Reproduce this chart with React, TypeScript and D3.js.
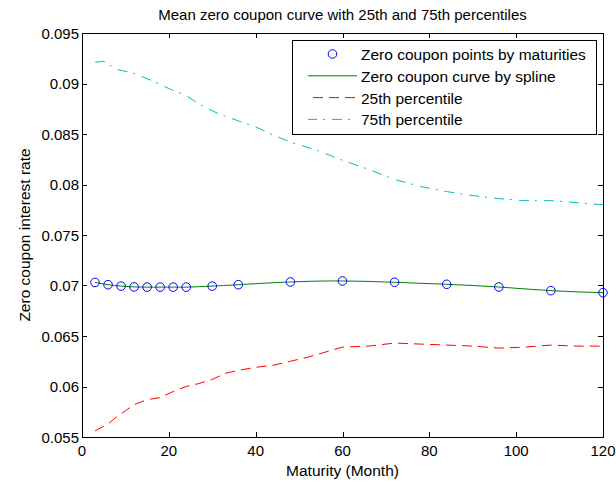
import React from "react";
import * as d3 from "d3";

// Zero coupon points (maturity in months, rate)
const maturities = [3, 6, 9, 12, 15, 18, 21, 24, 30, 36, 48, 60, 72, 84, 96, 108, 120];
const zeroRates = [
  0.0703, 0.07008, 0.06994, 0.06986, 0.06984, 0.06984, 0.06984, 0.06984, 0.06994,
  0.07008, 0.07035, 0.07045, 0.07032, 0.07012, 0.06985, 0.06949, 0.06929,
];

// 25th percentile curve
const p25Months = [3, 6, 8, 10, 12, 15, 18, 21, 24, 27, 30, 33, 36, 40, 44, 48, 52, 56, 60, 66, 72, 78, 84, 90, 96, 102, 108, 114, 120];
const p25Rates = [
  0.0556, 0.0563, 0.057, 0.0576, 0.0582, 0.0587, 0.0589, 0.0595, 0.06, 0.0603, 0.0607,
  0.0613, 0.0616, 0.0619, 0.0621, 0.0625, 0.0629, 0.0634, 0.0639, 0.064, 0.0643, 0.0642,
  0.0641, 0.064, 0.0638, 0.0639, 0.0641, 0.064, 0.064,
];

// 75th percentile curve
const p75Months = [3, 5, 8, 12, 16, 20, 24, 28, 32, 36, 40, 44, 48, 54, 60, 66, 72, 78, 84, 90, 96, 102, 108, 114, 120];
const p75Rates = [
  0.0921, 0.0922, 0.0914, 0.091, 0.0903, 0.0895, 0.0888, 0.0877, 0.0869, 0.0863, 0.0857,
  0.0849, 0.0842, 0.0834, 0.0824, 0.0815, 0.0805, 0.0798, 0.0793, 0.0789, 0.0786, 0.0784,
  0.0784, 0.0782, 0.078,
];

const xTicks = [0, 20, 40, 60, 80, 100, 120];
const yTicks = [0.055, 0.06, 0.065, 0.07, 0.075, 0.08, 0.085, 0.09, 0.095];

const legendItems = [
  "Zero coupon points by maturities",
  "Zero coupon curve by spline",
  "25th percentile",
  "75th percentile",
];

const W = 616;
const H = 482;
const left = 82;
const right = 603;
const top = 33;
const bottom = 437;
const FONT = "'Liberation Sans', Arial, Helvetica, sans-serif";
const BLUE = "#0000ff";
const GREEN = "#008000";
const RED = "#ff0000";
const CYAN = "#00bfbf";

export default function App() {
  const x = d3.scaleLinear().domain([0, 120]).range([left, right]);
  const y = d3.scaleLinear().domain([0.055, 0.095]).range([bottom, top]);

  const spline = d3
    .line<number>()
    .x((_, i) => x(maturities[i]))
    .y((d) => y(d))
    .curve(d3.curveNatural)(zeroRates) as string;

  const p25Path = d3
    .line<number>()
    .x((_, i) => x(p25Months[i]))
    .y((d) => y(d))(p25Rates) as string;

  const p75Path = d3
    .line<number>()
    .x((_, i) => x(p75Months[i]))
    .y((d) => y(d))(p75Rates) as string;

  const tickLen = 5;
  const legX = 292;
  const legY = 40;
  const legW = 304;
  const legH = 94;
  const rowY = [54, 75.8, 97.6, 119.4];
  const sampleX0 = 308;
  const sampleX1 = 357;

  return (
    <svg
      width={W}
      height={H}
      style={{ position: "absolute", left: 0, top: 0, background: "#fff" }}
      fontFamily={FONT}
    >
      <rect x={0} y={0} width={W} height={H} fill="#fff" />

      {/* data lines */}
      <path d={p75Path} fill="none" stroke={CYAN} strokeWidth={1} strokeDasharray="10,6,2,7" />
      <path d={p25Path} fill="none" stroke={RED} strokeWidth={1} strokeDasharray="10,6" />
      <path d={spline} fill="none" stroke={GREEN} strokeWidth={1} />
      {maturities.map((m, i) => (
        <circle key={m} cx={x(m)} cy={y(zeroRates[i])} r={4.3} fill="none" stroke={BLUE} strokeWidth={1} />
      ))}

      {/* axes box */}
      <rect
        x={left + 0.5}
        y={top + 0.5}
        width={right - left}
        height={bottom - top}
        fill="none"
        stroke="#000"
        strokeWidth={1}
      />
      {xTicks.map((t) => (
        <g key={"x" + t}>
          <line x1={Math.round(x(t)) + 0.5} x2={Math.round(x(t)) + 0.5} y1={bottom} y2={bottom - tickLen} stroke="#000" />
          <line x1={Math.round(x(t)) + 0.5} x2={Math.round(x(t)) + 0.5} y1={top} y2={top + tickLen} stroke="#000" />
          <text x={x(t)} y={456} textAnchor="middle" fontSize={15} fill="#000">
            {t}
          </text>
        </g>
      ))}
      {yTicks.map((t) => (
        <g key={"y" + t}>
          <line x1={left} x2={left + tickLen} y1={Math.round(y(t)) + 0.5} y2={Math.round(y(t)) + 0.5} stroke="#000" />
          <line x1={right} x2={right - tickLen} y1={Math.round(y(t)) + 0.5} y2={Math.round(y(t)) + 0.5} stroke="#000" />
          <text x={79} y={y(t) + 5.5} textAnchor="end" fontSize={15} fill="#000">
            {String(+t.toFixed(3))}
          </text>
        </g>
      ))}

      {/* titles */}
      <text x={342.5} y={19.5} textAnchor="middle" fontSize={15} fill="#000">
        Mean zero coupon curve with 25th and 75th percentiles
      </text>
      <text x={342.5} y={476} textAnchor="middle" fontSize={15.5} fill="#000">
        Maturity (Month)
      </text>
      <text
        transform={`translate(30,235) rotate(-90)`}
        textAnchor="middle"
        fontSize={15.5}
        fill="#000"
      >
        Zero coupon interest rate
      </text>

      {/* legend */}
      <rect x={legX + 0.5} y={legY + 0.5} width={legW} height={legH} fill="#fff" stroke="#000" strokeWidth={1} />
      <circle cx={(sampleX0 + sampleX1) / 2} cy={rowY[0]} r={4.3} fill="none" stroke={BLUE} />
      <line x1={sampleX0} x2={sampleX1} y1={rowY[1]} y2={rowY[1]} stroke={GREEN} />
      <line x1={sampleX0} x2={sampleX1} y1={rowY[2]} y2={rowY[2]} stroke={RED} strokeDasharray="10,6" strokeDashoffset={-5} />
      <line x1={sampleX0} x2={sampleX1} y1={rowY[3]} y2={rowY[3]} stroke={CYAN} strokeDasharray="10,6,2,7" strokeDashoffset={1} />
      {legendItems.map((label, i) => (
        <text key={label} x={361} y={rowY[i] + 6} fontSize={15.5} fill="#000">
          {label}
        </text>
      ))}
    </svg>
  );
}
